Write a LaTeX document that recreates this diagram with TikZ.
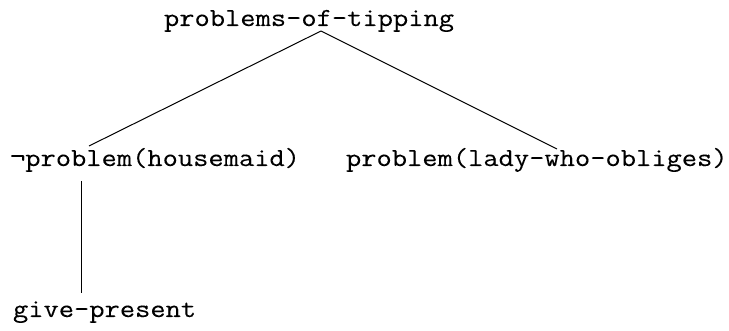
\documentclass[tikz,border=0pt]{standalone}
\usepackage{fontspec}
\setmonofont{Latin Modern Mono}[FakeBold=0.1]
\begin{document}
\begin{tikzpicture}[x=1pt,y=-1pt,
  term/.style={anchor=base west,inner sep=0pt,outer sep=0pt,
    xscale=1.14,transform shape,
    font=\ttfamily\fontsize{26}{31}\selectfont},
  edge/.style={line width=1pt}]
  \useasboundingbox (0,0) rectangle (729,331);
  % tree labels
  \node[term] (root)  at (164,26)  {problems-of-tipping};
  \node[term] (left)  at (10,166)  {¬problem(housemaid)};
  \node[term] (right) at (346,166) {problem(lady-who-obliges)};
  \node[term] (leaf)  at (13,317)  {give-present};
  % connector end points
  \coordinate (apex)  at (321,31);
  \coordinate (lend)  at (89,146);
  \coordinate (rend)  at (557,149);
  \coordinate (vtop)  at (81,181);
  \coordinate (vbot)  at (81,293);
  % branches
  \draw[edge] (apex) -- (lend);
  \draw[edge] (apex) -- (rend);
  \draw[edge] (vtop) -- (vbot);
\end{tikzpicture}
\end{document}
